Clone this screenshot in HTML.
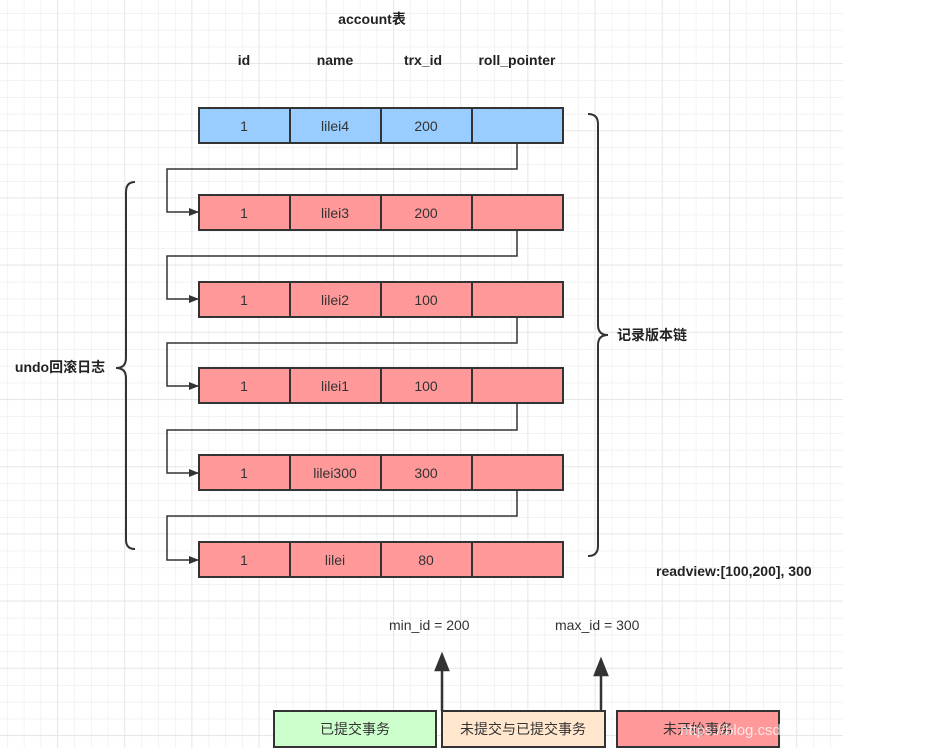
<!DOCTYPE html>
<html><head><meta charset="utf-8"><style>
body{margin:0;background:#fff}
svg text{font-family:"Liberation Sans","Noto Sans CJK SC",sans-serif}
</style></head><body>
<svg width="938" height="748" xmlns="http://www.w3.org/2000/svg">
<defs>
<pattern id="g" x="7" y="13" width="16.8" height="16.8" patternUnits="userSpaceOnUse">
<path d="M0 0H16.8M0 0V16.8" stroke="#ececec" stroke-width="1.2" fill="none"/>
</pattern>
<pattern id="G" x="57" y="63" width="67.2" height="67.2" patternUnits="userSpaceOnUse">
<path d="M0 0H67.2M0 0V67.2" stroke="#e2e2e2" stroke-width="1.2" fill="none"/>
</pattern>
<marker id="a" markerWidth="10" markerHeight="8" refX="9" refY="4" orient="auto" markerUnits="userSpaceOnUse"><path d="M0 0L10 4L0 8Z" fill="#333"/></marker>
<marker id="u" markerWidth="10" markerHeight="16" refX="8" refY="5" orient="auto" markerUnits="userSpaceOnUse"><path d="M0 0L16 5L0 10Z" fill="#333" transform="scale(1,1)"/></marker>
</defs>
<rect x="0" y="0" width="843" height="748" fill="url(#g)"/>
<rect x="0" y="0" width="843" height="748" fill="url(#G)"/>
<g font-size="14" font-weight="bold" fill="#222" text-anchor="middle">
<text x="372" y="24">account表</text>
<text x="244" y="65">id</text><text x="335" y="65">name</text><text x="423" y="65">trx_id</text><text x="517" y="65">roll_pointer</text>
</g>
<g stroke="#333" stroke-width="2" font-size="14" fill="#333" text-anchor="middle">
<g fill="#99ccff"><rect x="199" y="108" width="91" height="35"/><rect x="290" y="108" width="91" height="35"/><rect x="381" y="108" width="91" height="35"/><rect x="472" y="108" width="91" height="35"/></g>
<g fill="#ff9999">
<rect x="199" y="195" width="91" height="35"/><rect x="290" y="195" width="91" height="35"/><rect x="381" y="195" width="91" height="35"/><rect x="472" y="195" width="91" height="35"/>
<rect x="199" y="282" width="91" height="35"/><rect x="290" y="282" width="91" height="35"/><rect x="381" y="282" width="91" height="35"/><rect x="472" y="282" width="91" height="35"/>
<rect x="199" y="368" width="91" height="35"/><rect x="290" y="368" width="91" height="35"/><rect x="381" y="368" width="91" height="35"/><rect x="472" y="368" width="91" height="35"/>
<rect x="199" y="455" width="91" height="35"/><rect x="290" y="455" width="91" height="35"/><rect x="381" y="455" width="91" height="35"/><rect x="472" y="455" width="91" height="35"/>
<rect x="199" y="542" width="91" height="35"/><rect x="290" y="542" width="91" height="35"/><rect x="381" y="542" width="91" height="35"/><rect x="472" y="542" width="91" height="35"/>
</g>
</g>
<g font-size="14" fill="#333" text-anchor="middle">
<text x="244" y="131">1</text><text x="335" y="131">lilei4</text><text x="426" y="131">200</text>
<text x="244" y="218">1</text><text x="335" y="218">lilei3</text><text x="426" y="218">200</text>
<text x="244" y="305">1</text><text x="335" y="305">lilei2</text><text x="426" y="305">100</text>
<text x="244" y="391">1</text><text x="335" y="391">lilei1</text><text x="426" y="391">100</text>
<text x="244" y="478">1</text><text x="335" y="478">lilei300</text><text x="426" y="478">300</text>
<text x="244" y="565">1</text><text x="335" y="565">lilei</text><text x="426" y="565">80</text>
</g>
<g stroke="#333" stroke-width="1.5" fill="none" marker-end="url(#a)">
<path d="M517 143V169H167V212H198"/>
<path d="M517 230V256H167V299H198"/>
<path d="M517 317V343H167V386H198"/>
<path d="M517 403V430H167V473H198"/>
<path d="M517 490V516H167V560H198"/>
</g>
<g stroke="#333" stroke-width="2" fill="none">
<path d="M135 182Q126 182 126 192V358Q126 368 116 368Q126 368 126 378V540Q126 549 135 549"/>
<path d="M588 114Q598 114 598 124V325Q598 335 608 335Q598 335 598 345V546Q598 556 588 556"/>
</g>
<text x="60" y="372" font-size="14" font-weight="bold" fill="#222" text-anchor="middle">undo回滚日志</text>
<text x="617" y="340" font-size="14" font-weight="bold" fill="#222">记录版本链</text>
<text x="656" y="576" font-size="14" font-weight="bold" fill="#222">readview:[100,200], 300</text>
<text x="389" y="630" font-size="14" fill="#333">min_id = 200</text>
<text x="555" y="630" font-size="14" fill="#333">max_id = 300</text>
<g stroke="#333" stroke-width="2.5">
<line x1="442" y1="711" x2="442" y2="668"/><path d="M436 670L442 655L448 670Z" fill="#333"/>
<line x1="601" y1="711" x2="601" y2="673"/><path d="M595 675L601 660L607 675Z" fill="#333"/>
</g>
<g stroke="#333" stroke-width="2">
<rect x="274" y="711" width="162" height="36" fill="#ccffcc"/>
<rect x="442" y="711" width="163" height="36" fill="#ffe6cc"/>
<rect x="617" y="711" width="162" height="36" fill="#ff9999"/>
</g>
<g font-size="14" fill="#333" text-anchor="middle">
<text x="355" y="734">已提交事务</text>
<text x="523" y="734">未提交与已提交事务</text>
<text x="698" y="734">未开始事务</text>
</g>
<text x="680" y="735" font-size="15" fill="#fff" fill-opacity="0.75">https://blog.csdn.net/cmL46679910</text>
</svg>
</body></html>
